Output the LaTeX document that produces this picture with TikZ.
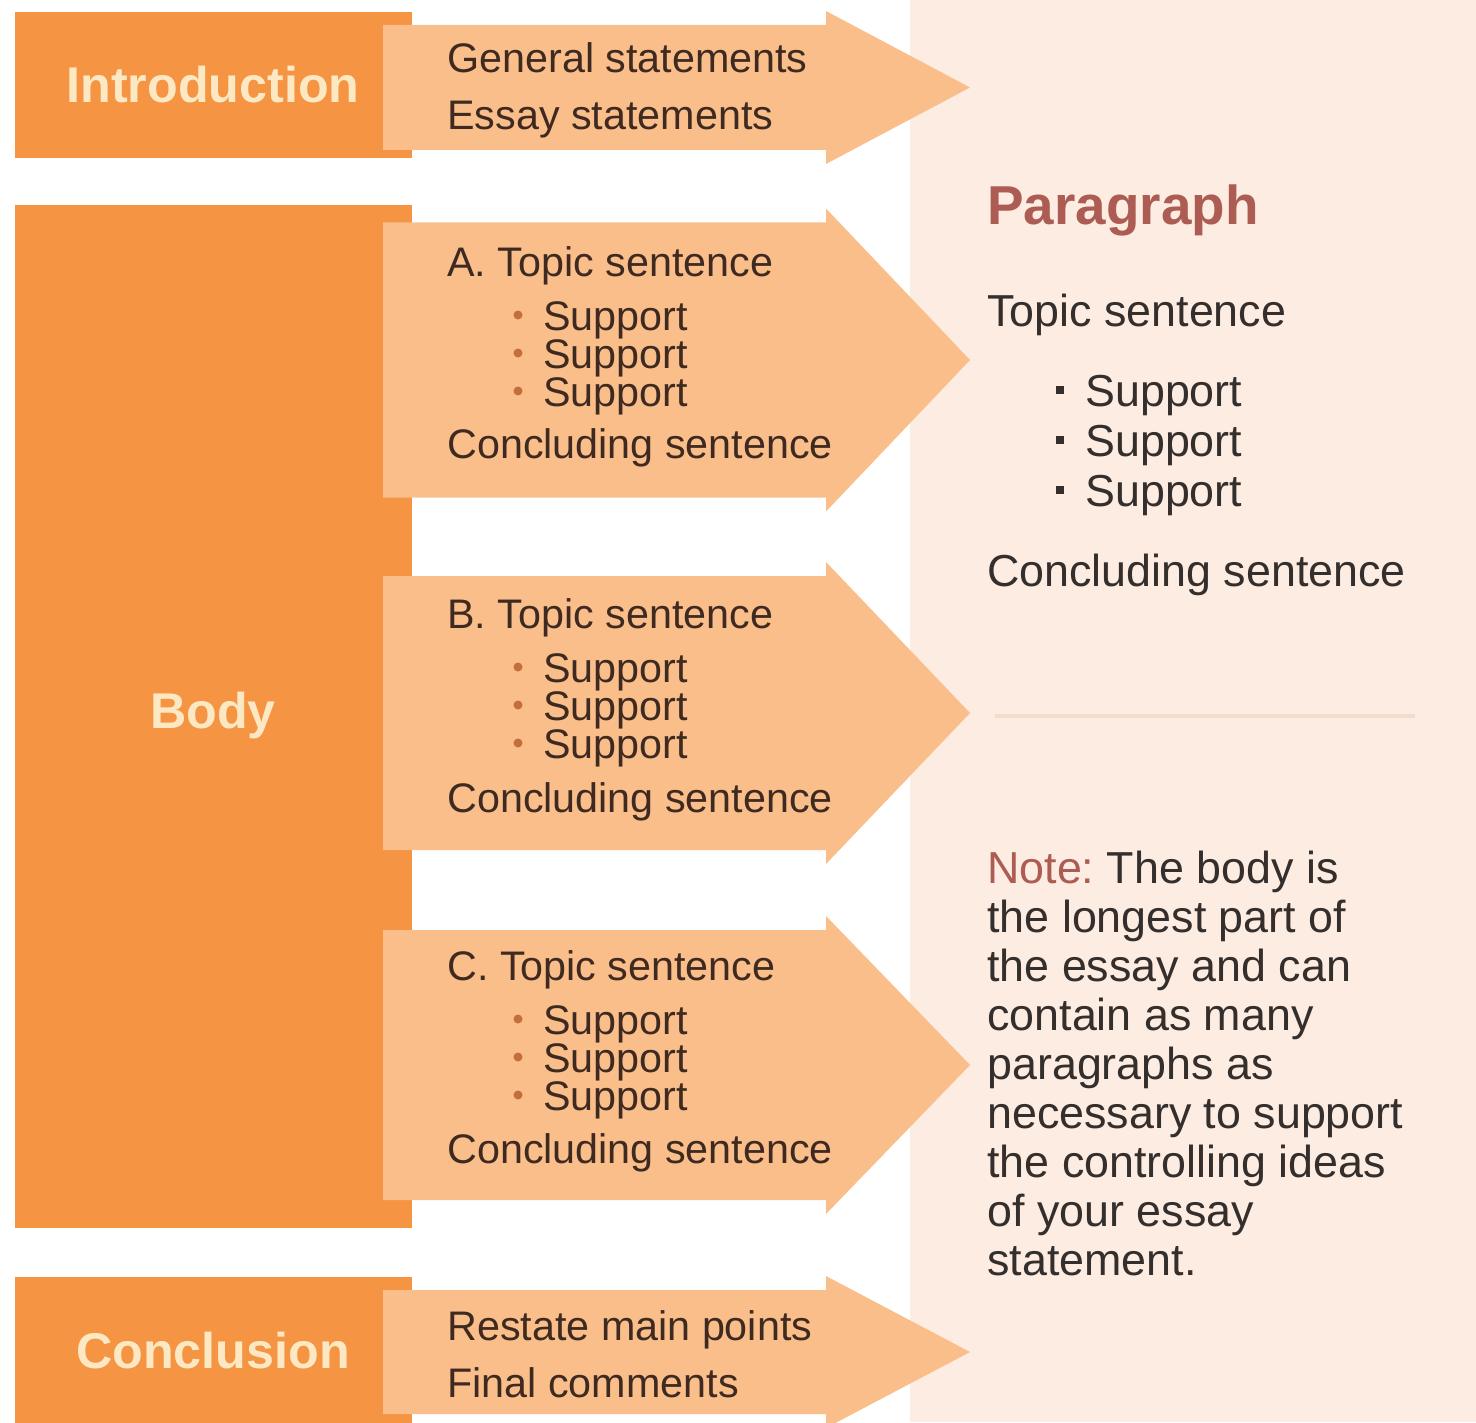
\documentclass[tikz,border=0pt]{standalone}
\usepackage{fontspec}
\setmainfont{Liberation Sans}
\usepackage{xcolor}
\usepackage{tikz}
\frenchspacing
\definecolor{dunkelorange}{RGB}{245,148,66}
\definecolor{hellorange}{RGB}{250,190,138}
\definecolor{panel}{RGB}{252,236,225}
\definecolor{trennlinie}{RGB}{243,220,205}
\definecolor{creme}{RGB}{253,232,196}
\definecolor{schrift}{RGB}{62,42,32}
\definecolor{panelschrift}{RGB}{52,46,44}
\definecolor{rotbraun}{RGB}{172,92,82}
\definecolor{punktfarbe}{RGB}{196,110,60}

\begin{document}
\begin{tikzpicture}[x=0.02cm, y=-0.02cm]
	
	\useasboundingbox (0,0) rectangle (1476,1422);
	\tikzstyle{titel}=[font=\fontsize{28.6pt}{30pt}\selectfont\bfseries, text=creme, inner sep=0pt, anchor=base]
	\tikzstyle{zeile}=[font=\fontsize{23.5pt}{26pt}\selectfont, text=schrift, inner sep=0pt, anchor=base west]
	\tikzstyle{rechts}=[font=\fontsize{25.5pt}{28pt}\selectfont, text=panelschrift, inner sep=0pt, anchor=base west]
	
	% Hintergrund rechts
	\fill[panel] (910,0) rectangle (1476,1422);
	\draw[line width=2pt, color=trennlinie] (995,716) -- (1415,716);
	
	% Dunkle Kaesten
	\fill[dunkelorange] (15,12) rectangle (412,158);
	\fill[dunkelorange] (15,205) rectangle (412,1228);
	\fill[dunkelorange] (15,1277) rectangle (412,1430);
	
	% Pfeile (Mitte/halbe Hoehe)
	\foreach \m/\h in {87.5/62.5, 360/137.5, 713/137, 1065/135, 1352/62}
	\fill[hellorange] (383,\m-\h) -- (826,\m-\h) -- (826,\m-\h-14) -- (970,\m)
	      -- (826,\m+\h+14) -- (826,\m+\h) -- (383,\m+\h) -- cycle;
	
	% Titel
	\node[titel] (intro) at (213,103) {Introduction};
	\node[titel] (body) at (213,728) {Body};
	\node[titel] (concl) at (213,1368) {Conclusion};
	
	% Einleitung
	\node[zeile] (gen) at (447,73) {General statements};
	\node[zeile] (essay) at (447,130) {Essay statements};
	
	% Hauptteil
	\node[zeile] (topA) at (447,276) {A. Topic sentence};
	\node[zeile] (concA) at (447,458) {Concluding sentence};
	\node[zeile] (topB) at (447,628) {B. Topic sentence};
	\node[zeile] (concB) at (447,812) {Concluding sentence};
	\node[zeile] (topC) at (447,980) {C. Topic sentence};
	\node[zeile] (concC) at (447,1163) {Concluding sentence};
	\foreach \y in {330,368,406,682,720,758,1034,1072,1110}{
		\fill[punktfarbe] (518,\y-15) circle (4.5);
		\node[zeile] (s\y) at (543,\y) {Support};
	}
	
	% Schluss
	\node[zeile] (restate) at (447,1340) {Restate main points};
	\node[zeile] (final) at (447,1397) {Final comments};
	
	% Absatz rechts
	\node[rechts, font=\fontsize{31.2pt}{33pt}\selectfont\bfseries, text=rotbraun] (para) at (987,225) {Paragraph};
	\node[rechts] (ptop) at (987,326) {Topic sentence};
	\foreach \y in {406,456,506}{
		\fill[panelschrift] (1056,\y-20) rectangle (1064,\y-12);
		\node[rechts] (p\y) at (1085,\y) {Support};
	}
	\node[rechts] (pconc) at (987,586) {Concluding sentence};
	
	% Hinweis
	\node[rechts] (note0) at (987,883) {\textcolor{rotbraun}{Note:} The body is};
	\foreach \zeile [count=\i] in {the longest part of, the essay and can, contain as many, paragraphs as, necessary to support, the controlling ideas, of your essay, statement.}
	\node[rechts] (note\i) at (987,883+49*\i) {\zeile};
	
\end{tikzpicture}
\end{document}
